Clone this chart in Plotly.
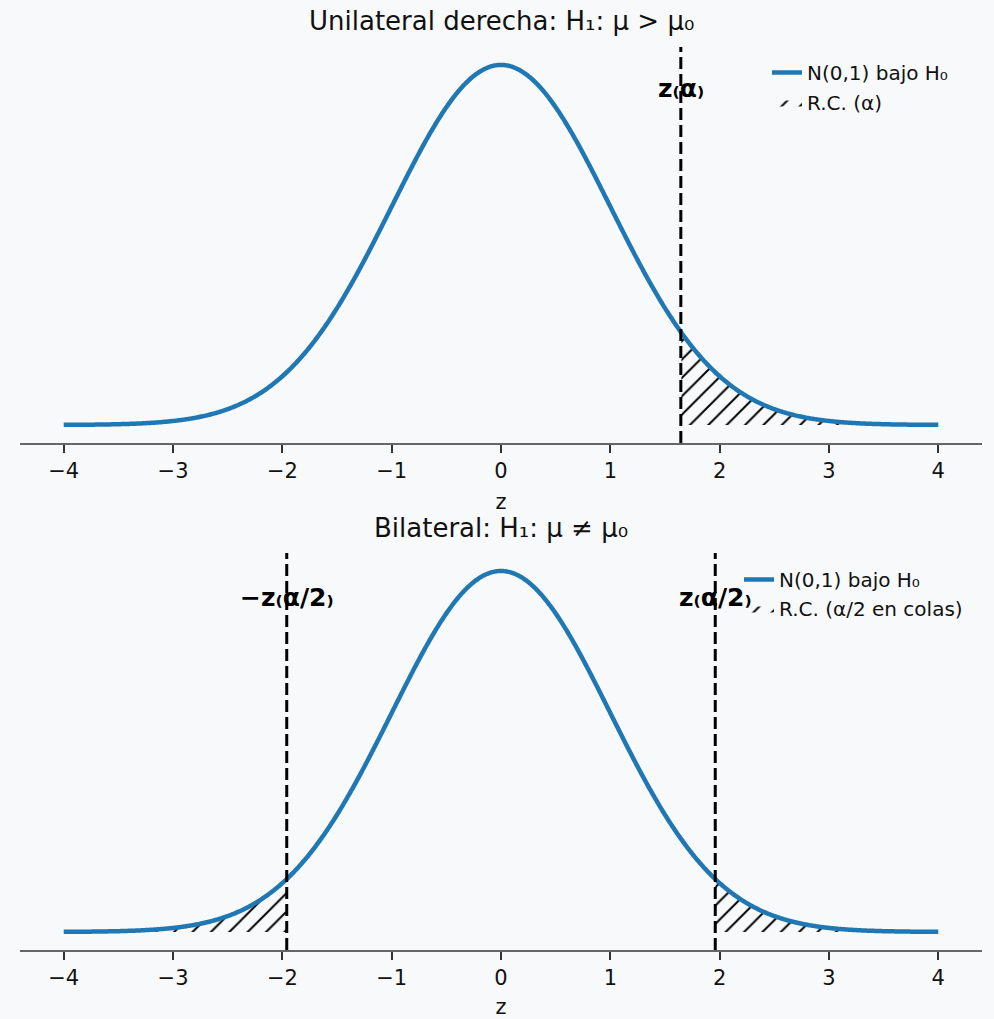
import numpy as np
import plotly.graph_objects as go

# Standard normal under H0
z_grid = np.linspace(-4, 4, 801)
pdf = np.exp(-z_grid ** 2 / 2) / np.sqrt(2 * np.pi)

# Critical values
z_alpha = 1.645      # one-sided, alpha = 0.05
z_alpha_half = 1.96  # two-sided, alpha = 0.05

titles = ["Unilateral derecha: H₁: μ > μ₀", "Bilateral: H₁: μ ≠ μ₀"]
tick_vals = [-4, -3, -2, -1, 0, 1, 2, 3, 4]
tick_text = ["−4", "−3", "−2", "−1", "0", "1", "2", "3", "4"]

BG = "#f8f9fa"
BLUE = "#1f77b4"
FONT = "DejaVu Sans"
W, H = 994, 1019
ML, MR = 20, 12

def px_x(p):
    return (p - ML) / (W - ML - MR)

def px_y(p):
    return 1 - p / H

ymin, ymax = -0.01995, 0.4188

fig = go.Figure()

hatch = dict(shape="/", fgcolor="black", fgopacity=1, bgcolor="rgba(0,0,0,0)",
             size=13, solidity=0.15)

def curve(xa, ya, legend):
    fig.add_trace(go.Scatter(x=z_grid, y=pdf, mode="lines",
                             line=dict(color=BLUE, width=4.5, simplify=False),
                             name="N(0,1) bajo H₀", legend=legend, xaxis=xa, yaxis=ya,
                             hoverinfo="skip"))

def tail(mask, xa, ya, name, legend, show):
    fig.add_trace(go.Scatter(
        x=z_grid[mask], y=pdf[mask], mode="lines", fill="tozeroy",
        fillcolor="rgba(0,0,0,0)", fillpattern=hatch,
        line=dict(width=0, color="black"), name=name, legend=legend,
        showlegend=show, xaxis=xa, yaxis=ya, hoverinfo="skip"))

# Top panel: right-tailed test
tail(z_grid >= z_alpha, "x", "y", "R.C. (α)", "legend2", True)
curve("x", "y", "legend")

# Bottom panel: two-tailed test
tail(z_grid <= -z_alpha_half, "x2", "y2", "R.C. (α/2 en colas)", "legend4", True)
tail(z_grid >= z_alpha_half, "x2", "y2", "R.C. (α/2 en colas)", "legend4", False)
curve("x2", "y2", "legend3")

dash = dict(color="black", width=3, dash="12px,5px")
fig.add_shape(type="line", xref="x", yref="y domain", x0=z_alpha, x1=z_alpha, y0=0, y1=1, line=dash)
for zc in (-z_alpha_half, z_alpha_half):
    fig.add_shape(type="line", xref="x2", yref="y2 domain", x0=zc, x1=zc, y0=0, y1=1, line=dash)

lab_font = dict(family=FONT, size=25, color="black")
fig.add_annotation(x=z_alpha, y=0.373, xref="x", yref="y", text="<b>z₍α₎</b>",
                   showarrow=False, font=lab_font)
fig.add_annotation(x=-z_alpha_half, y=0.37, xref="x2", yref="y2", text="<b>−z₍α/2₎</b>",
                   showarrow=False, font=lab_font)
fig.add_annotation(x=z_alpha_half, y=0.37, xref="x2", yref="y2", text="<b>z₍α/2₎</b>",
                   showarrow=False, font=lab_font)

# Panel titles
for t, yp in zip(titles, (21, 528)):
    fig.add_annotation(x=0.5, y=px_y(yp), xref="paper", yref="paper", text=t,
                       showarrow=False, font=dict(family=FONT, size=26, color="#111"),
                       yanchor="middle")

xaxis_common = dict(range=[-4.4, 4.4], tickvals=tick_vals, ticktext=tick_text,
                    showgrid=False, zeroline=False, showline=True, linecolor="#666",
                    linewidth=1.6, ticks="outside", ticklen=8, tickwidth=1.6,
                    tickcolor="#333", tickfont=dict(family=FONT, size=21, color="#111"),
                    title=dict(text="z", font=dict(family=FONT, size=21, color="#111"), standoff=12))
yaxis_common = dict(range=[ymin, ymax], visible=False, showgrid=False, zeroline=False)

def leg(xp, yp):
    return dict(x=px_x(xp), y=px_y(yp), xanchor="left", yanchor="top",
                bgcolor="rgba(0,0,0,0)", font=dict(family=FONT, size=20, color="#111"))

fig.update_layout(
    width=W, height=H, paper_bgcolor=BG, plot_bgcolor=BG,
    margin=dict(l=ML, r=MR, t=0, b=0),
    font=dict(family=FONT, color="#111"),
    xaxis=dict(domain=[0, 1], anchor="y", **xaxis_common),
    yaxis=dict(domain=[px_y(443), px_y(47)], anchor="x", **yaxis_common),
    xaxis2=dict(domain=[0, 1], anchor="y2", **xaxis_common),
    yaxis2=dict(domain=[px_y(950), px_y(553)], anchor="x2", **yaxis_common),
    legend=leg(767, 53),
    legend2=leg(767, 83),
    legend3=leg(739, 560),
    legend4=leg(739, 589),
    showlegend=True,
)

fig.write_html("out.html")
